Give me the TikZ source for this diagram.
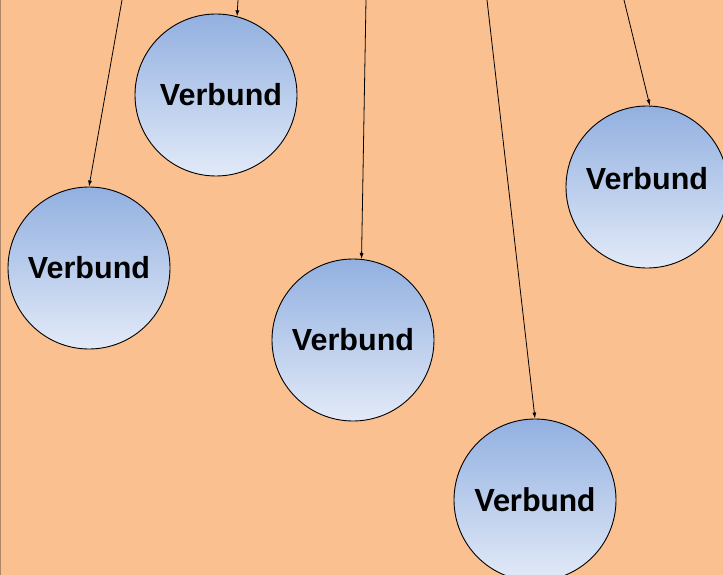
\documentclass[tikz,border=0pt]{standalone}
\usepackage{fontspec}
\setmainfont{Liberation Sans}
\newfontfamily\calfont{Carlito}
\usetikzlibrary{arrows.meta}
\definecolor{slideorange}{RGB}{250,192,144}
\definecolor{balltop}{RGB}{146,176,224}
\definecolor{ballbottom}{RGB}{226,234,248}

\begin{document}
\begin{tikzpicture}[x=1pt,y=-1pt,
							verbund/.style={circle, draw=black, line width=0.9pt, minimum size=162pt, inner sep=0pt,
								top color=balltop, bottom color=ballbottom,
								font=\fontsize{30.5}{31}\selectfont\bfseries},
							fall/.style={line width=0.8pt, -{Latex[length=6pt,width=4pt]}},
							]
							\useasboundingbox (0,0) rectangle (723,575);
							\fill[slideorange] (0,0) rectangle (723,575);
							\draw[line width=1pt, color=black!30!slideorange] (0.5,0) -- (0.5,575);
							%Nodes
							\node[verbund]      (c1) 	at 	(216,95)           {\hspace*{10pt}Verbund};
							\node[verbund]      (c2) 	at 	(89,268)           {Verbund};
							\node[verbund]      (c3) 	at 	(353,340)          {Verbund};
							\node[verbund, text depth=18pt]      (c4) 	at 	(647,187)          {Verbund};
							\node[verbund, font=\calfont\fontsize{34}{35}\selectfont\bfseries]      (c5) 	at 	(535,500)          {Verbund};
							\coordinate (t1) at (122,0);
							\coordinate (t2) at (238,0);
							\coordinate (t3) at (366,0);
							\coordinate (t4) at (487,0);
							\coordinate (t5) at (624,0);
							%Lines
							\draw[fall] (t1) --  (c2.north);
							\draw[fall] (t2) --  (c1.75);
							\draw[fall] (t3) --  (c3.84);
							\draw[fall] (t4) --  (c5.north);
							\draw[fall] (t5) --  (c4.88);
						\end{tikzpicture}
\end{document}
